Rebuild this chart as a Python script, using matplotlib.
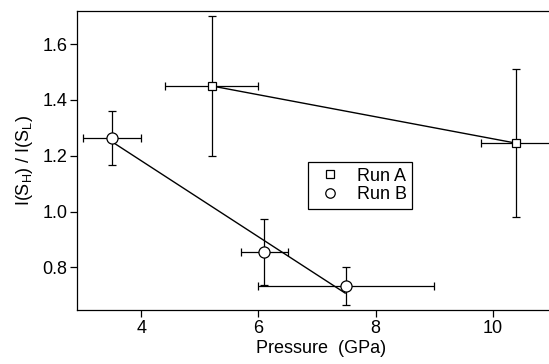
import matplotlib
matplotlib.use("Agg")
import matplotlib.pyplot as plt
from matplotlib import rcParams

rcParams["font.family"] = "sans-serif"
rcParams["font.sans-serif"] = ["Liberation Sans", "DejaVu Sans"]
rcParams["mathtext.default"] = "regular"

# data
runA_p = [5.2, 10.4]
runA_r = [1.45, 1.245]
runA_perr = [0.8, 0.6]
runA_rerr = [0.25, 0.265]

runB_p = [3.5, 6.1, 7.5]
runB_r = [1.265, 0.855, 0.734]
runB_perr = [0.5, 0.4, 1.5]
runB_rerr = [0.097, 0.117, 0.069]

# straight lines drawn through the runs
lineA_p = [5.2, 10.4]
lineA_r = [1.45, 1.245]
lineB_p = [3.5, 7.48]
lineB_r = [1.25, 0.708]

fig = plt.figure(figsize=(5.49, 3.64), dpi=100)
ax = fig.add_axes([0.140, 0.148, 0.860, 0.823])

ax.plot(lineA_p, lineA_r, color="black", lw=1.0, zorder=2)
ax.plot(lineB_p, lineB_r, color="black", lw=1.0, zorder=2)

ax.errorbar(runA_p, runA_r, xerr=runA_perr, yerr=runA_rerr, fmt="s",
            ms=6, mfc="white", mec="black", mew=0.9, ecolor="black",
            elinewidth=0.9, capsize=3, capthick=0.9, label="Run A", zorder=3)
ax.errorbar(runB_p, runB_r, xerr=runB_perr, yerr=runB_rerr, fmt="o",
            ms=8, mfc="white", mec="black", mew=0.9, ecolor="black",
            elinewidth=0.9, capsize=3, capthick=0.9, label="Run B", zorder=3)

ax.set_xlim(2.9, 10.96)
ax.set_ylim(0.647, 1.72)
ax.set_xticks([4, 6, 8, 10])
ax.set_yticks([0.8, 1.0, 1.2, 1.4, 1.6])
ax.set_yticklabels(["0.8", "1.0", "1.2", "1.4", "1.6"])
ax.tick_params(direction="out", length=5, width=0.9, labelsize=13, pad=2)
ax.spines["right"].set_visible(False)
for s in ["left", "bottom", "top"]:
    ax.spines[s].set_linewidth(0.9)

ax.set_xlabel("Pressure  (GPa)", fontsize=13, labelpad=1)
ax.xaxis.set_label_coords(0.517, -0.10)
ax.set_ylabel("I(S$_H$) / I(S$_L$)", fontsize=13, labelpad=5)

handles, labels = ax.get_legend_handles_labels()
handles = [h[0] for h in handles]
leg = ax.legend(handles, labels, loc="upper left", bbox_to_anchor=(0.489, 0.494),
                fontsize=13, frameon=True, fancybox=False, edgecolor="black",
                framealpha=1, handlelength=1.85, handletextpad=0.57,
                borderpad=0.3, labelspacing=0.1, borderaxespad=0,
                markerscale=0.85)
leg.get_frame().set_linewidth(0.9)

plt.savefig("out.png", dpi=100)
